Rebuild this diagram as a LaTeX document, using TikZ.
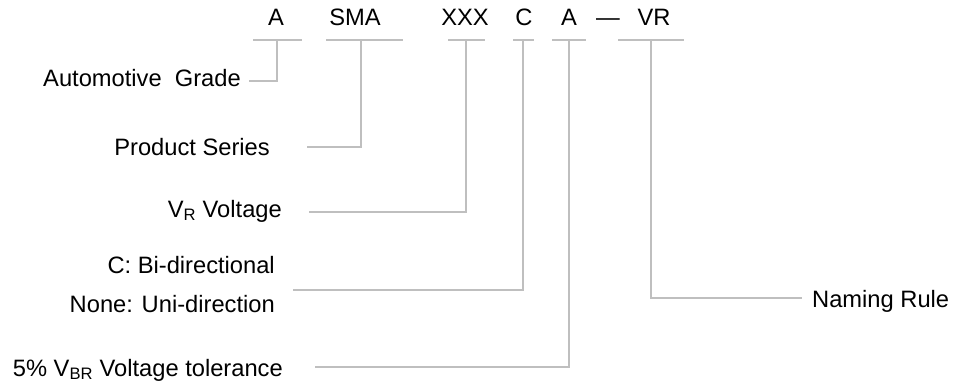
\documentclass[tikz,border=0pt]{standalone}
\usepackage{fontspec}
\setmainfont{Liberation Sans}
\begin{document}
\begin{tikzpicture}[x=1pt,y=-1pt,
  lbl/.style={font=\fontsize{23.7}{28}\selectfont, inner sep=0pt, text=black},
  conn/.style={draw=black!25, line width=1.8pt},
  bar/.style={draw=black!25, line width=1.8pt}]
\useasboundingbox (0,0) rectangle (954,386);
% top code letters
\node[lbl, anchor=base] (tA)   at (276,25) {A};
\node[lbl, anchor=base] (tSMA) at (355,25) {SMA};
\node[lbl, anchor=base] (tX)   at (465,25) {XXX};
\node[lbl, anchor=base] (tC)   at (524,25) {C};
\node[lbl, anchor=base] (tA2)  at (569,25) {A};
\node[lbl, anchor=base] (tD)   at (608,25) {—};
\node[lbl, anchor=base] (tVR)  at (654,25) {VR};
% bars under the code letters
\coordinate (k1) at (277,40); \coordinate (b1l) at (253,40); \coordinate (b1r) at (302,40);
\coordinate (k2) at (361,40); \coordinate (b2l) at (326,40); \coordinate (b2r) at (403,40);
\coordinate (k3) at (466,40); \coordinate (b3l) at (448,40); \coordinate (b3r) at (485,40);
\coordinate (k4) at (523,40); \coordinate (b4l) at (513,40); \coordinate (b4r) at (534,40);
\coordinate (k5) at (569,40); \coordinate (b5l) at (552,40); \coordinate (b5r) at (586,40);
\coordinate (k6) at (651,40); \coordinate (b6l) at (618,40); \coordinate (b6r) at (684,40);
\foreach \i in {1,...,6} { \draw[bar] (b\i l) -- (b\i r); }
% descriptions
\node[lbl, anchor=base east] (lAuto) at (241,86) {Automotive\ \ Grade};
\node[lbl, anchor=base east] (lProd) at (270,155.5) {Product Series};
\node[lbl, anchor=base east] (lVR)   at (282,217) {V\textsubscript{R} Voltage};
\node[lbl, anchor=base east] (lC)    at (275,273) {C: Bi-directional};
\node[lbl, anchor=base east] (lNone) at (275,312.5) {None: Uni-direction};
\node[lbl, anchor=base east] (lTol)  at (283,376) {5\% V\textsubscript{BR} Voltage tolerance};
\node[lbl, anchor=base west] (lName) at (812,307) {Naming Rule};
% connector ends
\coordinate (eAuto) at (249,81);
\coordinate (eProd) at (307,147);
\coordinate (eVR)   at (309,212);
\coordinate (eC)    at (293,290);
\coordinate (eTol)  at (315,367);
\coordinate (eName) at (802,298);
% connectors
\draw[conn] (k1) |- (eAuto);
\draw[conn] (k2) |- (eProd);
\draw[conn] (k3) |- (eVR);
\draw[conn] (k4) |- (eC);
\draw[conn] (k5) |- (eTol);
\draw[conn] (k6) |- (eName);
\end{tikzpicture}
\end{document}
